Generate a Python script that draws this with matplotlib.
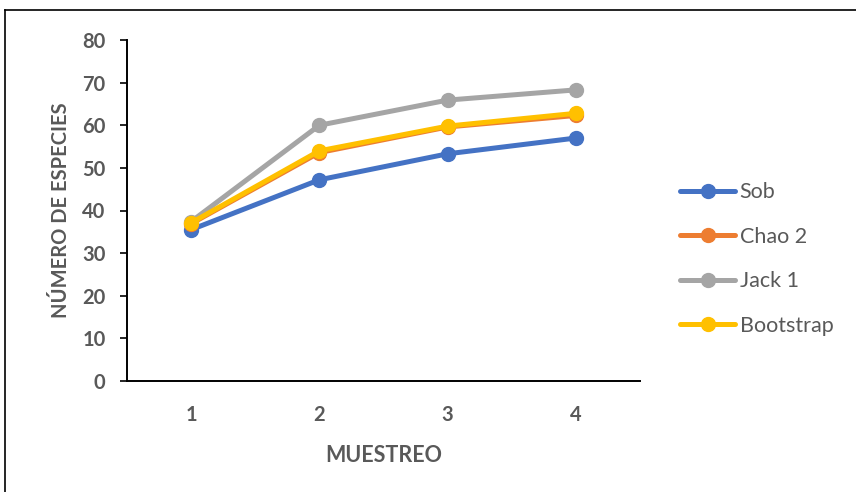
import matplotlib
matplotlib.use("Agg")
import matplotlib.pyplot as plt
from matplotlib.lines import Line2D

categories = ["1", "2", "3", "4"]
sob = [35.5, 47.2, 53.3, 57.0]
chao2 = [36.9, 53.6, 59.6, 62.3]
jack1 = [37.4, 60.0, 65.9, 68.3]
bootstrap = [37.1, 54.0, 59.8, 62.8]
y_ticks = [0, 10, 20, 30, 40, 50, 60, 70, 80]

series = [("Sob", sob, "#4472C4"), ("Chao 2", chao2, "#ED7D31"),
          ("Jack 1", jack1, "#A5A5A5"), ("Bootstrap", bootstrap, "#FFC000")]

plt.rcParams['font.family'] = ['Lato', 'DejaVu Sans']
gray = "#595959"

fig = plt.figure(figsize=(8.56, 4.92), dpi=100)
ax = fig.add_axes([127/856, 1-381/492, (640-127)/856, (381-40)/492])

x = list(range(1, len(categories) + 1))
for name, vals, col in series:
    ax.plot(x, vals, color=col, lw=3.6, marker="o", markersize=10,
            label=name, solid_capstyle="round")

ax.set_xlim(0.5, 4.5)
ax.set_ylim(0, 80)
ax.set_yticks(y_ticks)
ax.set_xticks(x)
ax.set_xticklabels(categories)
for s in ["top", "right"]:
    ax.spines[s].set_visible(False)
for s in ["left", "bottom"]:
    ax.spines[s].set_linewidth(1.4)
    ax.spines[s].set_color("black")
ax.tick_params(axis="y", length=5, width=1.2, colors="black", labelcolor=gray, labelsize=14.5, pad=10.5)
ax.tick_params(axis="x", length=0, labelcolor=gray, labelsize=14.5, pad=17)
for lab in ax.get_xticklabels() + ax.get_yticklabels():
    lab.set_fontweight("bold")

ax.set_xlabel("MUESTREO", fontsize=15.5, fontweight="bold", color=gray, labelpad=15)
ax.set_ylabel("NÚMERO DE ESPECIES", fontsize=14.5, fontweight="bold", color=gray, labelpad=8)

leg = fig.legend(loc="upper left", bbox_to_anchor=(661/856, 1-163/492), frameon=False,
                 fontsize=15.5, labelspacing=1.14, handlelength=2.55, handletextpad=0.2,
                 labelcolor=gray)

# outer frame (only left and top visible)
fig.add_artist(Line2D([5/856, 5/856], [0, 1-10/492], transform=fig.transFigure, color="black", lw=1.2))
fig.add_artist(Line2D([5/856, 1], [1-10/492, 1-10/492], transform=fig.transFigure, color="black", lw=1.2))

fig.savefig("out.png", dpi=100)
